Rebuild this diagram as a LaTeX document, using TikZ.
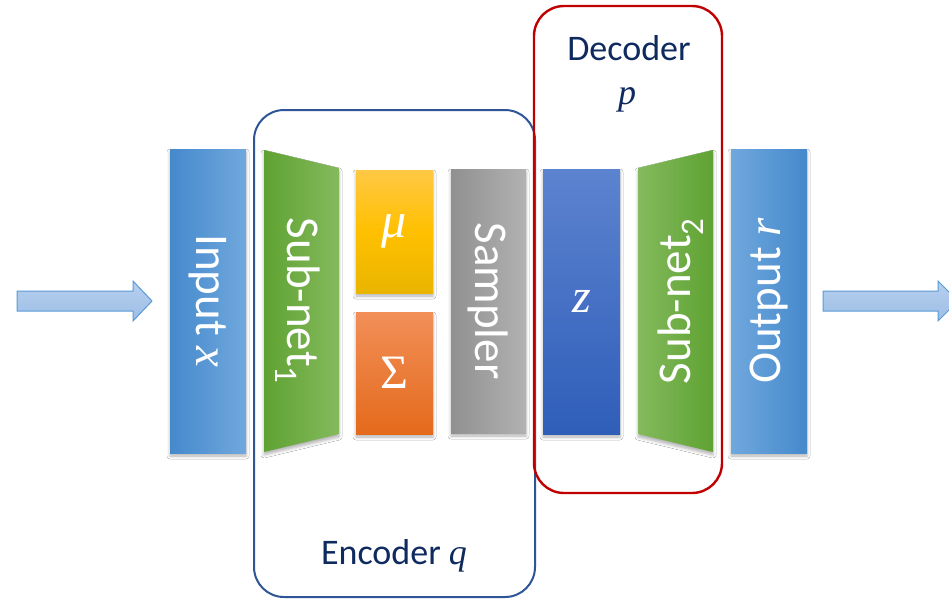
\documentclass[tikz,border=0pt]{standalone}
\usepackage{fontspec}
\setmainfont{Carlito}
\newfontfamily\mf{Liberation Serif}
\newcommand\mv[1]{{\mf\itshape #1}}
\usetikzlibrary{shadows.blur}
\definecolor{navy}{HTML}{0E2A5E}
\definecolor{encblue}{HTML}{2F5597}
\definecolor{decred}{HTML}{C00000}
\definecolor{inD}{HTML}{4589CC}
\definecolor{inL}{HTML}{70A8DD}
\definecolor{grD}{HTML}{5FA232}
\definecolor{grL}{HTML}{84BA5D}
\definecolor{muT}{HTML}{FFC844}
\definecolor{muM}{HTML}{FFC000}
\definecolor{muB}{HTML}{E9B500}
\definecolor{sgT}{HTML}{F28F58}
\definecolor{sgB}{HTML}{E46A1C}
\definecolor{gyD}{HTML}{909090}
\definecolor{gyL}{HTML}{B2B2B2}
\definecolor{zT}{HTML}{5C83CF}
\definecolor{zB}{HTML}{2F5EB9}
\definecolor{arF}{HTML}{9DBEE6}
\definecolor{arL}{HTML}{B6CFEE}
\definecolor{arE}{HTML}{5B9BD5}
\begin{document}
\begin{tikzpicture}[x=1pt,y=-1pt,
 shad/.style={blur shadow={shadow xshift=0pt,shadow yshift=-3pt,shadow blur radius=3pt,shadow opacity=30}},
 blk/.style={shad,inner sep=0pt,text=white,font=\fontsize{47}{50}\selectfont},
 lbl/.style={inner sep=0pt,text=white,font=\fontsize{47}{50}\selectfont},
 grp/.style={rounded corners=30pt,line width=2pt},
 capt/.style={text=navy,font=\fontsize{36}{40}\selectfont,anchor=base,inner sep=0pt},
 barrow/.style={draw=arE,line width=1pt,top color=arL,bottom color=arF}]
\useasboundingbox (0,0) rectangle (949,598);
\clip (0,0) rectangle (949,598);
\fill[white] (0,0) rectangle (949,598);

% group outlines
\draw[grp,draw=encblue] (254,110) rectangle (535,597);
\draw[grp,draw=decred,line width=2.4pt] (534,6) rectangle (722,493);

% block arrows
\coordinate (inTip) at (152,301);
\coordinate (outTail) at (823,301);
\draw[barrow] (17,291) -- (133,291) -- (133,281) -- (inTip) -- (133,321) -- (133,311) -- (17,311) -- cycle;
\draw[barrow] (outTail) ++(0,-10) -- (938,291) -- (938,281) -- (958,301) -- (938,321) -- (938,311) -- (823,311) -- cycle;

% input
\node[blk,minimum width=76pt,minimum height=304pt,left color=inD,right color=inL] (inp) at (208,301)
  {\rotatebox{-90}{Input \mv{x}}};

% sub-net 1
\path (264,150) coordinate (s1a) (339,168) coordinate (s1b) (339,434) coordinate (s1c) (264,452) coordinate (s1d);
\shade[shad,left color=grD,right color=grL] (s1a) -- (s1b) -- (s1c) -- (s1d) -- cycle;
\node[lbl] (sn1) at (298,301) {\rotatebox{-90}{Sub-net\textsubscript{1}}};

% mu and sigma
\node[blk,minimum width=77pt,minimum height=123pt,top color=muT,bottom color=muB,middle color=muM] (mu) at (394.5,231.5)
  {\fontsize{50}{50}\selectfont\mv{μ}};
\node[blk,minimum width=77pt,minimum height=122pt,top color=sgT,bottom color=sgB] (sig) at (394.5,373)
  {\fontsize{48}{50}\selectfont\mf Σ};

% sampler
\node[blk,minimum width=75pt,minimum height=264pt,left color=gyD,right color=gyL] (smp) at (488.5,301)
  {\rotatebox{-90}{Sampler}};

% z
\node[blk,minimum width=77pt,minimum height=265pt,top color=zT,bottom color=zB] (z) at (581.5,301.5)
  {\fontsize{48}{50}\selectfont\mv{z}};

% sub-net 2
\path (638,168) coordinate (s2a) (713,150) coordinate (s2b) (713,452) coordinate (s2c) (638,434) coordinate (s2d);
\shade[shad,left color=grL,right color=grD] (s2a) -- (s2b) -- (s2c) -- (s2d) -- cycle;
\node[lbl] (sn2) at (681,301) {\rotatebox{90}{Sub-net\textsubscript{2}}};

% output
\node[blk,minimum width=76pt,minimum height=304pt,left color=inL,right color=inD] (out) at (769,301)
  {\rotatebox{90}{Output \mv{r}}};

% captions
\node[capt] (dec) at (629,60) {Decoder};
\node[capt] (decp) at (627,104) {\mv{p}};
\node[capt] (enc) at (394,564) {Encoder \mv{q}};
\end{tikzpicture}
\end{document}
